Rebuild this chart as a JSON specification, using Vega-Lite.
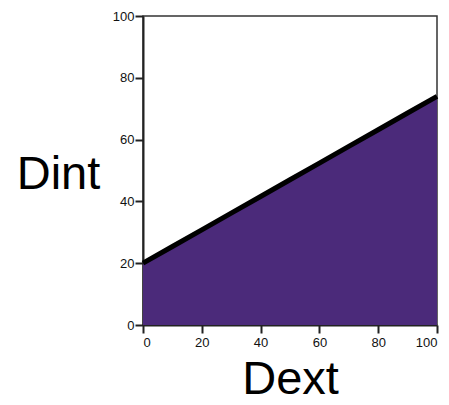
{
  "$schema": "https://vega.github.io/schema/vega-lite/v6.json",
  "width": 294,
  "height": 309,
  "autosize": {"type": "none"},
  "padding": {"left": 143, "top": 16, "right": 12, "bottom": 80},
  "background": "white",
  "config": {
    "view": {"stroke": "#333333", "strokeWidth": 1.5},
    "axis": {
      "grid": false,
      "domainColor": "#222222",
      "domainWidth": 2,
      "tickColor": "#222222",
      "tickWidth": 2,
      "tickSize": 8,
      "labelFont": "Liberation Sans",
      "labelFontSize": 13,
      "labelColor": "#111111",
      "titleFont": "Liberation Sans",
      "titleFontSize": 47,
      "titleFontWeight": "normal",
      "titleColor": "#000000"
    }
  },
  "data": {
    "values": [
      {"Dext": 0, "Dint": 20.0},
      {"Dext": 10, "Dint": 25.4},
      {"Dext": 20, "Dint": 30.8},
      {"Dext": 30, "Dint": 36.2},
      {"Dext": 40, "Dint": 41.6},
      {"Dext": 50, "Dint": 47.0},
      {"Dext": 60, "Dint": 52.4},
      {"Dext": 70, "Dint": 57.8},
      {"Dext": 80, "Dint": 63.2},
      {"Dext": 90, "Dint": 68.6},
      {"Dext": 100, "Dint": 74.0}
    ]
  },
  "encoding": {
    "x": {
      "field": "Dext",
      "type": "quantitative",
      "scale": {"domain": [0, 100], "nice": false},
      "axis": {
        "values": [0, 20, 40, 60, 80, 100],
        "labelPadding": 3,
        "title": "Dext",
        "titleBaseline": "alphabetic",
        "titleY": 68,
        "titleX": 147,
        "titleAlign": "center"
      }
    },
    "y": {
      "field": "Dint",
      "type": "quantitative",
      "scale": {"domain": [0, 100], "nice": false},
      "axis": {
        "values": [0, 20, 40, 60, 80, 100],
        "labelPadding": 1,
        "title": "Dint",
        "titleAngle": 0,
        "titleAlign": "center",
        "titleBaseline": "alphabetic",
        "titleX": -85,
        "titleY": 172
      }
    }
  },
  "layer": [
    {"mark": {"type": "area", "color": "#4B2A7A", "opacity": 1}},
    {"mark": {"type": "line", "color": "#000000", "strokeWidth": 5}}
  ]
}
